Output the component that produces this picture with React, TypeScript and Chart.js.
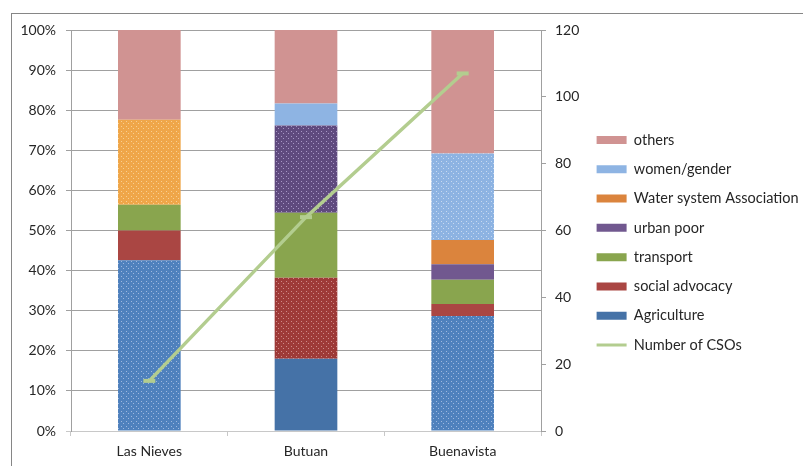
import React, { useEffect, useRef } from "react";
import { Chart, registerables } from "chart.js";

Chart.register(...registerables);

const categories = ["Las Nieves", "Butuan", "Buenavista"];
const agriculture = [42.6, 18.0, 28.7];
const socialAdvocacy = [7.4, 20.2, 3.0];
const transport = [6.4, 16.2, 6.0];
const urbanPoor = [0, 21.8, 3.9];
const waterSystem = [21.2, 0, 6.0];
const womenGender = [0, 5.5, 21.6];
const others = [22.4, 18.3, 30.8];
const numberOfCSOs = [15, 64, 107];

const leftTicks = [0, 10, 20, 30, 40, 50, 60, 70, 80, 90, 100];
const rightTicks = [0, 20, 40, 60, 80, 100, 120];

function makePattern(base: string, dot: string) {
  const c = document.createElement("canvas");
  c.width = 5;
  c.height = 5;
  const x = c.getContext("2d")!;
  x.fillStyle = base;
  x.fillRect(0, 0, 5, 5);
  x.fillStyle = dot;
  x.fillRect(1, 1, 1, 1);
  x.fillRect(3, 3, 1, 1);
  return x.createPattern(c, "repeat")!;
}

export default function App() {
  const ref = useRef<HTMLCanvasElement>(null);
  useEffect(() => {
    const agriP = makePattern("#4F81BD", "#9DB8E0");
    const socP = makePattern("#9E3A38", "#CF8A88");
    const urbP = makePattern("#5F4A7E", "#A796C4");
    const watP = makePattern("#EFA649", "#F9CF90");
    const womP = makePattern("#8DB3E2", "#C6D9F1");

    const colors = {
      agri: "#4572A7",
      soc: "#AA4643",
      trans: "#89A54E",
      urb: "#71588F",
      wat: "#DB843D",
      wom: "#8EB4E3",
      oth: "#D09392",
      line: "#B3CD8F",
    };

    const bar = (label: string, data: number[], bg: any, color: string) => ({
      type: "bar" as const,
      label,
      data,
      backgroundColor: bg,
      borderWidth: 0,
      yAxisID: "y",
      order: 1,
      barPercentage: 0.4,
      categoryPercentage: 1,
      _solid: color,
    });

    const datasets: any[] = [
      bar("Agriculture", agriculture, [agriP, colors.agri, agriP], colors.agri),
      bar("social advocacy", socialAdvocacy, [colors.soc, socP, colors.soc], colors.soc),
      bar("transport", transport, colors.trans, colors.trans),
      bar("urban poor", urbanPoor, [colors.urb, urbP, colors.urb], colors.urb),
      bar("Water system Association", waterSystem, [watP, colors.wat, colors.wat], colors.wat),
      bar("women/gender", womenGender, [colors.wom, colors.wom, womP], colors.wom),
      bar("others", others, colors.oth, colors.oth),
      {
        type: "line",
        label: "Number of CSOs",
        data: numberOfCSOs,
        yAxisID: "y1",
        borderColor: colors.line,
        backgroundColor: colors.line,
        borderWidth: 3.5,
        pointStyle: "line",
        pointRadius: 6,
        pointBorderWidth: 4,
        pointBorderColor: colors.line,
        order: 0,
        tension: 0,
      },
    ];

    const legendOrder = [6, 5, 4, 3, 2, 1, 0, 7];

    Chart.defaults.font.family = "Lato";
    Chart.defaults.font.size = 14;
    Chart.defaults.color = "#262626";

    const legendShift = {
      id: "legendShift",
      beforeDraw(chart: any) {
        if (chart.legend) chart.legend.bottom = 455;
      },
    };

    const chart = new Chart(ref.current!, {
      data: { labels: categories, datasets },
      plugins: [legendShift],
      options: {
        animation: false,
        responsive: false,
        layout: { padding: { top: 30, left: 0, right: 0, bottom: 0 } },
        plugins: {
          tooltip: { enabled: false },
          legend: {
            position: "right",
            maxWidth: 221.2,
            labels: {
              usePointStyle: true,
              pointStyleWidth: 30,
              boxHeight: 8,
              padding: 14.8,
              color: "#262626",
              font: { family: "Lato", size: 14.5 },
              generateLabels: () =>
                legendOrder.map((i) => {
                  const d = datasets[i];
                  const isLine = i === 7;
                  const c = isLine ? colors.line : d._solid;
                  return {
                    text: d.label,
                    fillStyle: c,
                    strokeStyle: c,
                    lineWidth: isLine ? 3 : 0,
                    pointStyle: isLine ? "line" : "rect",
                    hidden: false,
                    datasetIndex: i,
                    fontColor: "#262626",
                  } as any;
                }),
            },
          },
        },
        scales: {
          x: {
            stacked: true,
            offset: true,
            afterFit: (s: any) => {
              s.height = 35;
            },
            grid: {
              offset: true,
              drawOnChartArea: false,
              drawTicks: true,
              tickLength: 5,
              color: "#c8c8c8",
            },
            border: { display: true, color: "#c8c8c8" },
            ticks: { padding: 7, color: "#262626", font: { family: "Lato", size: 14 } },
          },
          y: {
            stacked: true,
            min: 0,
            max: 100,
            position: "left",
            afterFit: (s: any) => {
              s.width = 71;
            },
            afterBuildTicks: (s: any) => {
              s.ticks = leftTicks.map((v) => ({ value: v }));
            },
            grid: {
              color: (ctx: any) => (ctx.tick && ctx.tick.value === 0 ? "#c8c8c8" : "#a0a0a0"),
              tickLength: 5,
              drawTicks: true,
            },
            border: { display: true, color: "#a0a0a0" },
            ticks: {
              padding: 10,
              color: "#262626",
              font: { family: "Lato", size: 14 },
              callback: (v: any) => v + "%",
            },
          },
          y1: {
            min: 0,
            max: 120,
            position: "right",
            afterFit: (s: any) => {
              s.width = 40.8;
            },
            afterBuildTicks: (s: any) => {
              s.ticks = rightTicks.map((v) => ({ value: v }));
            },
            grid: {
              drawOnChartArea: false,
              drawTicks: true,
              tickLength: 5,
              color: "#a0a0a0",
            },
            border: { display: true, color: "#a0a0a0" },
            ticks: { padding: 9, color: "#262626", font: { family: "Lato", size: 14 } },
          },
        },
      } as any,
    });
    return () => chart.destroy();
  }, []);

  return (
    <>
      <div
        style={{
          position: "fixed",
          left: 11,
          top: 13,
          width: 900,
          height: 600,
          border: "1px solid #868686",
          background: "#fff",
        }}
      />
      <canvas
        ref={ref}
        width={803}
        height={466}
        style={{ position: "fixed", left: 0, top: 0, width: 803, height: 466 }}
      />
    </>
  );
}
